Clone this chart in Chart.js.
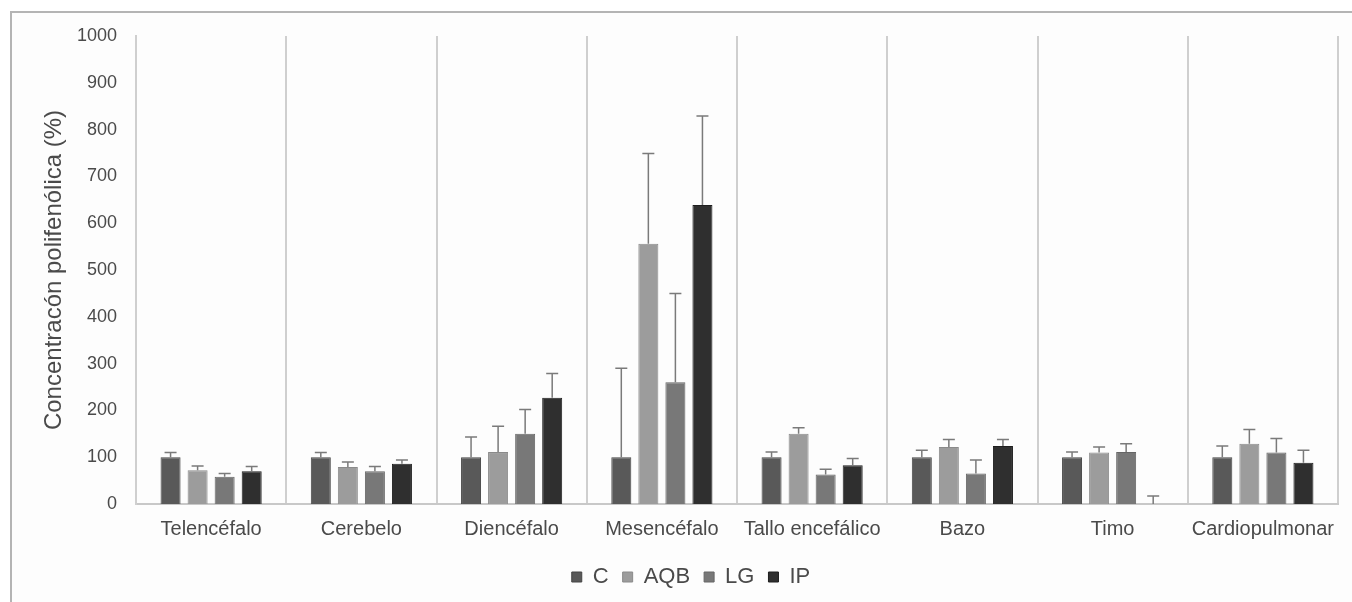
<!DOCTYPE html>
<html>
<head>
<meta charset="utf-8">
<script src="https://cdn.jsdelivr.net/npm/chart.js@4/dist/chart.umd.min.js"></script>
<style>
  html, body { margin: 0; padding: 0; background: #ffffff; }
  #frame { position: absolute; left: 10px; top: 11px; width: 1342px; height: 591px;
           border-top: 2px solid #b4b4b4; border-left: 2px solid #b4b4b4; background: #fdfdfd; }
  #wrap { position: absolute; left: 0; top: 0; width: 1352px; height: 602px; }
</style>
</head>
<body>
<div id="frame"></div>
<div id="wrap"><canvas id="c" width="1352" height="602"></canvas></div>
<script>
const categories = ["Telencéfalo", "Cerebelo", "Diencéfalo", "Mesencéfalo", "Tallo encefálico", "Bazo", "Timo", "Cardiopulmonar"];
const seriesNames = ["C", "AQB", "LG", "IP"];
const valuesC   = [100, 100, 100, 100, 100, 100, 100, 100];
const valuesAQB = [72, 79, 111, 556, 150, 122, 110, 129];
const valuesLG  = [58, 70, 150, 260, 63, 65, 111, 110];
const valuesIP  = [70, 86, 227, 639, 83, 124, 0, 88];
const errC   = [10, 10, 43, 190, 11, 15, 11, 24];
const errAQB = [9, 11, 55, 193, 13, 16, 12, 30];
const errLG  = [7, 10, 52, 190, 11, 29, 18, 30];
const errIP  = [10, 8, 52, 190, 14, 14, 17, 27];
const yTicks = [0, 100, 200, 300, 400, 500, 600, 700, 800, 900, 1000];

const fills = ["#595959", "#9c9c9c", "#787878", "#2f2f2f"];
const borders = ["#444444", "#8a8a8a", "#666666", "#1e1e1e"];
const allValues = [valuesC, valuesAQB, valuesLG, valuesIP];
const allErr = [errC, errAQB, errLG, errIP];
const FONT = 'Liberation Sans, Arial, sans-serif';

const errorBarPlugin = {
  id: 'errorBars',
  afterDatasetsDraw(chart) {
    const ctx = chart.ctx;
    const y = chart.scales.y;
    chart.data.datasets.forEach((ds, di) => {
      const meta = chart.getDatasetMeta(di);
      meta.data.forEach((bar, i) => {
        const v = ds.data[i];
        const e = ds.errors[i];
        if (!e) return;
        const yTop = y.getPixelForValue(v + e);
        const yBase = y.getPixelForValue(v);
        ctx.save();
        ctx.strokeStyle = '#7a7a7a';
        ctx.lineWidth = 1.5;
        ctx.beginPath();
        ctx.moveTo(bar.x, yBase);
        ctx.lineTo(bar.x, yTop);
        ctx.moveTo(bar.x - 6, yTop);
        ctx.lineTo(bar.x + 6, yTop);
        ctx.stroke();
        ctx.restore();
      });
    });
  }
};

const datasets = seriesNames.map((name, i) => ({
  label: name,
  data: allValues[i],
  errors: allErr[i],
  backgroundColor: fills[i],
  borderColor: borders[i],
  borderWidth: 1,
  categoryPercentage: 0.72,
  barPercentage: 0.74
}));

new Chart(document.getElementById('c'), {
  type: 'bar',
  data: { labels: categories, datasets: datasets },
  plugins: [errorBarPlugin],
  options: {
    responsive: false,
    devicePixelRatio: 1,
    animation: false,
    layout: { padding: { left: 44, right: 14, top: 36, bottom: 4 } },
    plugins: {
      legend: {
        position: 'bottom',
        labels: {
          boxWidth: 10, boxHeight: 10, padding: 14,
          color: '#4a4a4a',
          font: { family: FONT, size: 22 }
        }
      },
      tooltip: { enabled: false }
    },
    scales: {
      x: {
        afterFit(scale) { scale.height = 48; },
        grid: { display: true, offset: true, drawTicks: false, color: '#cfcfcf', lineWidth: 2 },
        border: { display: true, color: '#c8c8c8', width: 2 },
        ticks: { padding: 13, color: '#4a4a4a', font: { family: FONT, size: 20 } }
      },
      y: {
        min: 0, max: 1000,
        afterFit(scale) { scale.width = 92; },
        afterBuildTicks(scale) { scale.ticks = yTicks.map(v => ({ value: v })); },
        grid: { display: false, drawTicks: false },
        border: { display: true, color: '#cfcfcf', width: 2 },
        ticks: {
          padding: 19, color: '#4a4a4a', font: { family: FONT, size: 18 },
          callback: (v) => String(v)
        },
        title: {
          display: true,
          text: 'Concentracón polifenólica (%)',
          color: '#4a4a4a',
          font: { family: FONT, size: 24 },
          padding: { top: -4, bottom: 0 }
        }
      }
    }
  }
});
</script>
</body>
</html>
